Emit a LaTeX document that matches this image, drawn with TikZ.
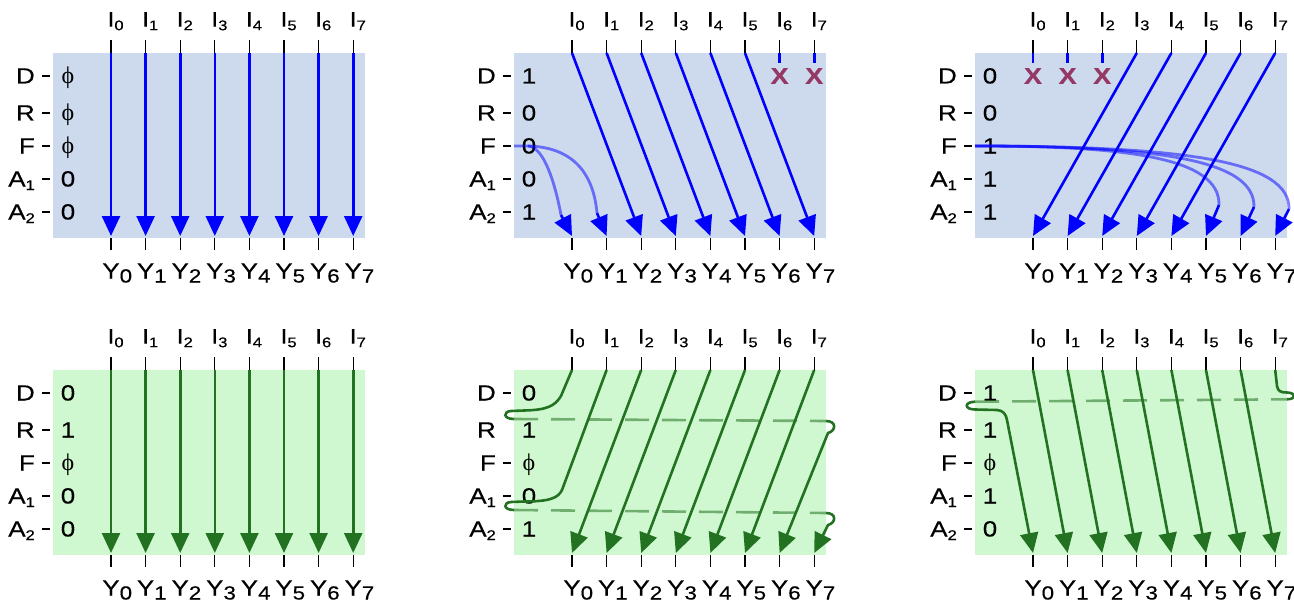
\documentclass[tikz,border=0pt]{standalone}
\usepackage{fontspec}
\setmainfont{Liberation Sans}[FakeStretch=1.18, FakeBold=0.4]
\newfontfamily\phifont{Liberation Serif}
\usetikzlibrary{arrows.meta,calc}

\definecolor{panelblue}{RGB}{205,218,238}
\definecolor{panelgreen}{RGB}{208,248,208}
\definecolor{linegreen}{RGB}{34,114,34}
\definecolor{markred}{RGB}{150,56,102}

\newcommand{\isub}[1]{\raisebox{-3.5pt}{\fontsize{14}{14}\selectfont #1}}
\newcommand{\ysub}[1]{\raisebox{-4pt}{\fontsize{19}{19}\selectfont #1}}
\newcommand{\phiv}{{\phifont\fontsize{24}{24}\selectfont ϕ}}

\tikzset{
  tick/.style={black, line width=1.3pt},
  lab/.style={font=\fontsize{22}{22}\selectfont, inner sep=0pt},
  collab/.style={lab, anchor=base},
  inlab/.style={font=\fontsize{21}{21}\selectfont, inner sep=0pt, anchor=base},
  rowlab/.style={lab, anchor=base east},
  vallab/.style={lab, anchor=base},
  barrow/.style={blue, line width=2.6pt, -{Triangle[length=20pt,width=18pt]}},
  garrow/.style={linegreen, line width=2.6pt, -{Triangle[length=20pt,width=18pt]}},
  gline/.style={linegreen, line width=2.6pt},
  bstub/.style={blue, line width=2.6pt},
  fcurve/.style={blue, draw opacity=0.5, line width=2.8pt},
  backline/.style={linegreen, draw opacity=0.55, line width=2.6pt, dash pattern=on 24pt off 13pt},
  xmark/.style={markred, font=\fontsize{23}{23}\selectfont\bfseries, inner sep=0pt},
}

% frame of one panel: #1 colour, #2..#6 values of D R F A1 A2, #7 rows with a dash
\newcommand{\muxpanel}[7]{%
  \fill[#1] (0,0) rectangle (312,185);
  \coordinate (f) at (0,93);
  \foreach \k in {0,...,7}{
    \pgfmathsetmacro\cx{58+34.6*\k}
    \coordinate (t\k) at (\cx,0);
    \coordinate (b\k) at (\cx,183);
    \coordinate (s\k) at (\cx,10);
    \coordinate (m\k) at (\cx,23);
    \coordinate (tt\k) at (\cx,-13);
    \coordinate (bt\k) at (\cx,185);
    \coordinate (bb\k) at (\cx,197);
    \draw[tick] (tt\k) -- (t\k);
    \draw[tick] (bt\k) -- (bb\k);
    \node[inlab] (i\k) at (\cx,-26.3) {I\rlap{\isub{\k}}};
    \node[collab] (y\k) at (\cx,225.5) {Y\rlap{\ysub{\k}}};
  }
  \foreach \nm/\val/\yy [count=\rw] in {D/#2/30.5, R/#3/67.5, F/#4/100.5, A\isub{1}/#5/133.5, A\isub{2}/#6/166.5}{
    \node[rowlab] (n\rw) at (-18,\yy) {\nm};
    \node[vallab] (v\rw) at (15,\yy) {\val};
    \coordinate (dl\rw) at (-11,\yy-7.5);
    \coordinate (dr\rw) at (-3,\yy-7.5);
  }
  \foreach \rw in {#7} \draw[tick] (dl\rw) -- (dr\rw);
}

\begin{document}
\begin{tikzpicture}[x=1pt, y=-1pt]
\useasboundingbox (0,0) rectangle (1294,602);

% straight through
\begin{scope}[shift={(53,53)}, name prefix=p1-]
  \muxpanel{panelblue}{\phiv}{\phiv}{\phiv}{0}{0}{1,...,5}
  \foreach \k in {0,...,7} \draw[barrow] (t\k) -- (b\k);
\end{scope}

% shift by two, fill with F
\begin{scope}[shift={(514,53)}, name prefix=p2-]
  \muxpanel{panelblue}{1}{0}{0}{0}{1}{1,...,5}
  \coordinate (e0) at (47,162);
  \coordinate (e1) at (83,160);
  \draw[fcurve] (f) -- (14,93) .. controls (30,94) and (41,130) .. (e0);
  \draw[fcurve] (14,93) .. controls (55,94) and (79,116) .. (e1);
  \draw[barrow] (e0) -- (b0);
  \draw[barrow] (e1) -- (b1);
  \foreach \k [evaluate=\k as \j using int(\k+2)] in {0,...,5} \draw[barrow] (t\k) -- (b\j);
  \foreach \k in {6,7}{
    \draw[bstub] (t\k) -- (s\k);
    \node[xmark] (x\k) at (m\k) {X};
  }
\end{scope}

% shift by three the other way
\begin{scope}[shift={(975,53)}, name prefix=p3-]
  \muxpanel{panelblue}{0}{0}{1}{1}{1}{1,...,5}
  \coordinate (e5) at (244,152);
  \coordinate (e6) at (279,154);
  \coordinate (e7) at (314,156);
  \draw[fcurve] (f) .. controls (150,93) and (245,104) .. (e5);
  \draw[fcurve] (f) .. controls (180,93) and (280,106) .. (e6);
  \draw[fcurve] (f) .. controls (210,93) and (315,108) .. (e7);
  \foreach \k in {5,6,7} \draw[barrow] (e\k) -- (b\k);
  \foreach \k [evaluate=\k as \j using int(\k-3)] in {3,...,7} \draw[barrow] (t\k) -- (b\j);
  \foreach \k in {0,1,2}{
    \draw[bstub] (t\k) -- (s\k);
    \node[xmark] (x\k) at (m\k) {X};
  }
\end{scope}

% rotate, straight
\begin{scope}[shift={(53,370)}, name prefix=p4-]
  \muxpanel{panelgreen}{0}{1}{\phiv}{0}{0}{1,...,5}
  \foreach \k in {0,...,7} \draw[garrow] (t\k) -- (b\k);
\end{scope}

% rotate by two
\begin{scope}[shift={(514,370)}, name prefix=p5-]
  \muxpanel{panelgreen}{0}{1}{\phiv}{0}{1}{1,3,4,5}
  \coordinate (w0a) at (0,49);
  \coordinate (w0b) at (312,51);
  \coordinate (w1a) at (0,140);
  \coordinate (w1b) at (312,143);
  \draw[backline] (w0a) -- (w0b);
  \draw[backline] (w1a) -- (w1b);
  \draw[gline] (t0) -- (47,26) .. controls (41,36) and (33,40) .. (10,40.5) -- (-3,41) .. controls (-11,41.5) and (-11,49) .. (w0a);
  \draw[garrow] (w0b) .. controls (323,51) and (322,61) .. (314,63) -- (b6);
  \draw[gline] (t1) -- (48,120) .. controls (44,128) and (36,131.5) .. (10,131.5) -- (-3,132) .. controls (-11,132.5) and (-11,140) .. (w1a);
  \draw[garrow] (w1b) .. controls (323,143) and (322,153) .. (314,155) -- (b7);
  \foreach \k [evaluate=\k as \j using int(\k-2)] in {2,...,7} \draw[garrow] (t\k) -- (b\j);
\end{scope}

% rotate by one the other way
\begin{scope}[shift={(975,370)}, name prefix=p6-]
  \muxpanel{panelgreen}{1}{1}{\phiv}{1}{0}{1,...,5}
  \coordinate (w7a) at (0,31.7);
  \coordinate (w7b) at (312,29.3);
  \draw[backline] (w7a) -- (w7b);
  \draw[gline] (t7) -- (302,16) .. controls (303,21.5) and (306,22.5) .. (312,22.5) .. controls (322,23) and (321,29.3) .. (w7b);
  \draw[garrow] (w7a) .. controls (-11,32) and (-11,39.3) .. (0,39.5) -- (22,40) .. controls (28,40.5) and (31,44) .. (32,50) -- (b0);
  \foreach \k [evaluate=\k as \j using int(\k+1)] in {0,...,6} \draw[garrow] (t\k) -- (b\j);
\end{scope}
\end{tikzpicture}
\end{document}
